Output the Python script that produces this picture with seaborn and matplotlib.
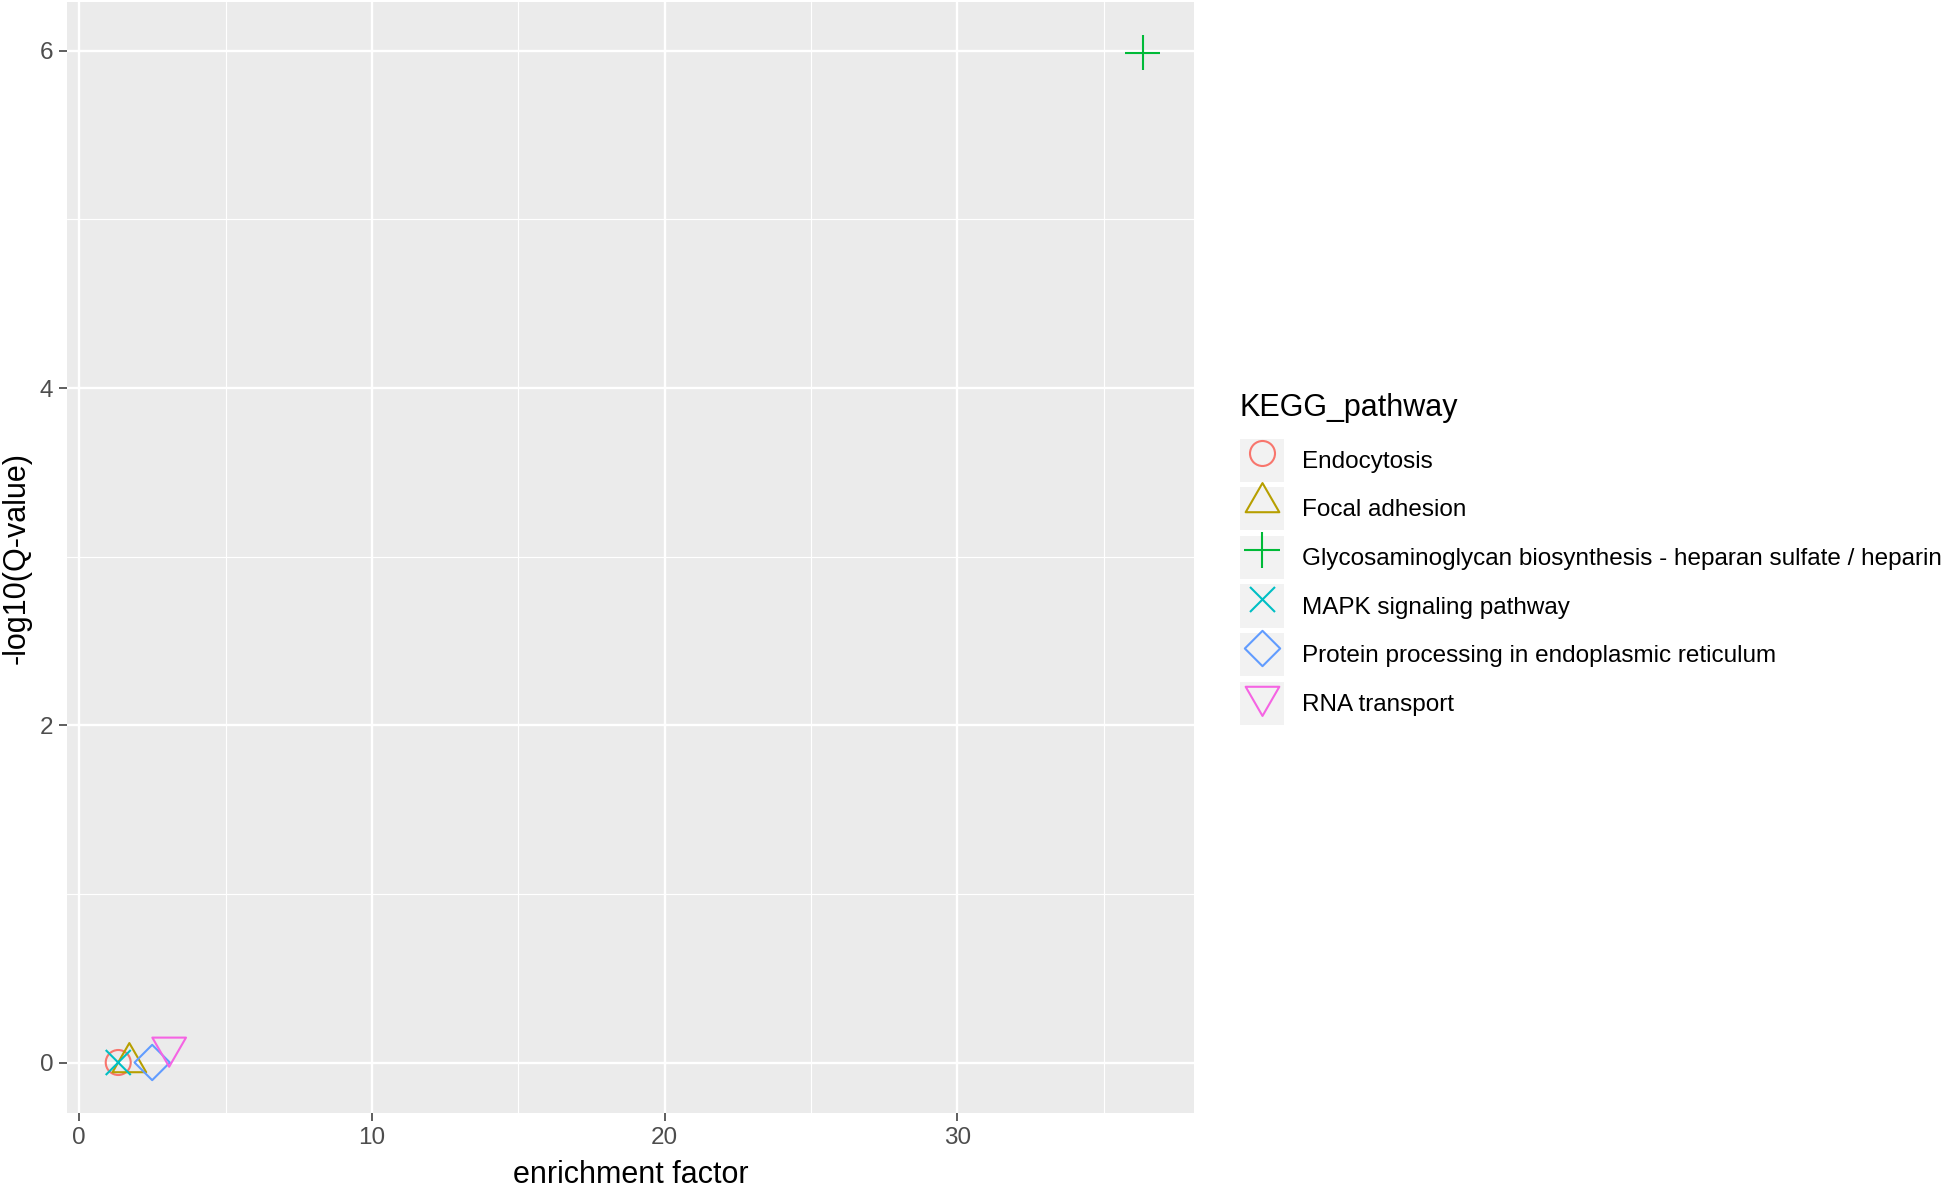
import numpy as np
import pandas as pd
import matplotlib
matplotlib.use("Agg")
import matplotlib.pyplot as plt
import seaborn as sns
from matplotlib.path import Path
from matplotlib.patches import Patch
from matplotlib.lines import Line2D

# data
pathways = [
    "Endocytosis",
    "Focal adhesion",
    "Glycosaminoglycan biosynthesis - heparan sulfate / heparin",
    "MAPK signaling pathway",
    "Protein processing in endoplasmic reticulum",
    "RNA transport",
]
enrichment = [1.33, 1.71, 36.33, 1.33, 2.49, 3.07]
neg_log_q = [0.0, 0.0, 5.99, 0.0, 0.0, 0.09]
colors = ["#F8766D", "#B79F00", "#00BA38", "#00BFC4", "#619CFF", "#F564E3"]
x_ticks = [0, 10, 20, 30]
y_ticks = [0, 2, 4, 6]

df = pd.DataFrame({
    "KEGG_pathway": pathways,
    "enrichment factor": enrichment,
    "-log10(Q-value)": neg_log_q,
})

# R-like open shapes 1..6, in units of the circle radius
M, L, C = Path.MOVETO, Path.LINETO, Path.CLOSEPOLY
t0, t1, t2 = 1.5551, 1.3468, 0.7776
s2 = np.sqrt(2)
shapes = [
    Path.unit_circle(),
    Path([(0, t0), (t1, -t2), (-t1, -t2), (0, t0)], [M, L, L, C]),
    Path([(-s2, 0), (s2, 0), (0, -s2), (0, s2)], [M, L, M, L]),
    Path([(-1, -1), (1, 1), (-1, 1), (1, -1)], [M, L, M, L]),
    Path([(-s2, 0), (0, s2), (s2, 0), (0, -s2), (-s2, 0)], [M, L, L, L, C]),
    Path([(0, -t0), (t1, t2), (-t1, t2), (0, -t0)], [M, L, L, C]),
]
R_PT = 9.0     # circle radius in points
LW = 1.5
marker_sizes = [2 * np.abs(p.vertices).max() * R_PT for p in shapes]

sns.set_style("darkgrid", {"axes.facecolor": "#EBEBEB", "grid.color": "white"})
plt.rcParams["font.family"] = ["Liberation Sans", "DejaVu Sans"]

fig = plt.figure(figsize=(19.46, 11.87), dpi=100)
ax = fig.add_axes([67 / 1946, 1 - 1113 / 1187, (1194 - 67) / 1946, (1113 - 2) / 1187])

for name, mk, ms, col in zip(pathways, shapes, marker_sizes, colors):
    sub = df[df["KEGG_pathway"] == name]
    sns.scatterplot(data=sub, x="enrichment factor", y="-log10(Q-value)",
                    marker=mk, s=ms ** 2, color=col, facecolor="none",
                    edgecolor=col, linewidth=LW, ax=ax, legend=False, zorder=3)

# ggplot-style 5% expansion
xr = max(enrichment) - min(enrichment)
yr = max(neg_log_q) - min(neg_log_q)
ax.set_xlim(min(enrichment) - 0.05 * xr, max(enrichment) + 0.05 * xr)
ax.set_ylim(min(neg_log_q) - 0.05 * yr, max(neg_log_q) + 0.05 * yr)

ax.set_xticks(x_ticks)
ax.set_yticks(y_ticks)
ax.set_xticks([5, 15, 25, 35], minor=True)
ax.set_yticks([1, 3, 5], minor=True)
ax.grid(which="major", color="white", linewidth=1.7)
ax.grid(which="minor", color="white", linewidth=0.85)
ax.set_axisbelow(True)
for sp in ax.spines.values():
    sp.set_visible(False)

ax.tick_params(which="major", length=5.5, width=1.1, color="#333333",
               labelsize=17.5, labelcolor="#4D4D4D", pad=4.4,
               bottom=True, left=True)
ax.tick_params(which="minor", length=0)
ax.set_xlabel("enrichment factor", fontsize=22, color="black", labelpad=8)
ax.set_ylabel("-log10(Q-value)", fontsize=22, color="black", labelpad=5.5)

# legend with grey key backgrounds
handles = []
for mk, ms, col in zip(shapes, marker_sizes, colors):
    bg = Patch(facecolor="#F2F2F2", edgecolor="none")
    mark = Line2D([], [], linestyle="none", marker=mk, markersize=ms,
                  markerfacecolor="none", markeredgecolor=col, markeredgewidth=LW)
    handles.append((bg, mark))

leg = fig.legend(handles, pathways, title="KEGG_pathway", loc="center left",
                 bbox_to_anchor=(1240 / 1946, 0.529), frameon=False,
                 fontsize=17.5, title_fontsize=22, alignment="left",
                 numpoints=1, handlelength=1.83, handleheight=2.36,
                 labelspacing=0.22, handletextpad=0.74, borderpad=0,
                 borderaxespad=0, labelcolor="black")
leg.get_title().set_color("black")
leg._legend_box.sep = 11

fig.savefig("out.png", dpi=100)
